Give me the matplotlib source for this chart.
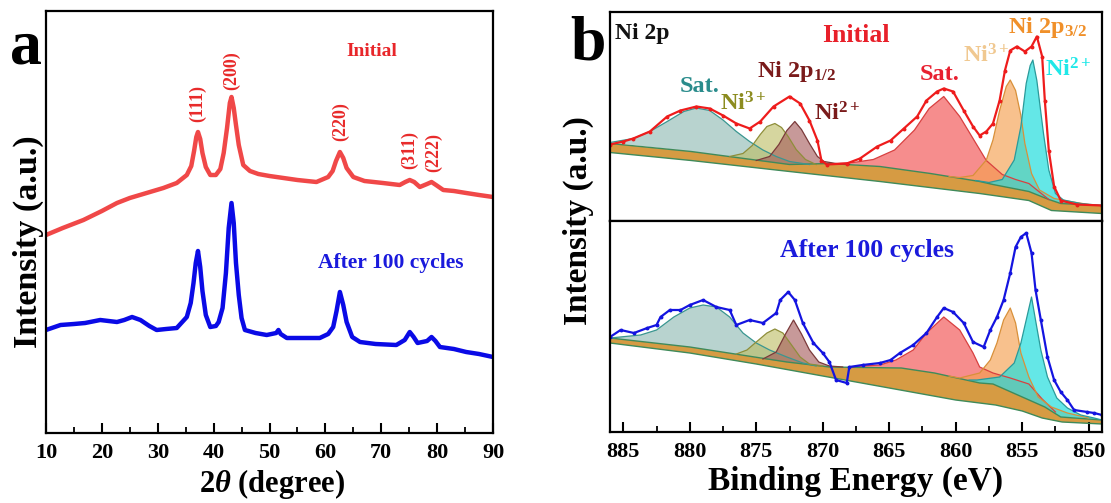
import numpy as np
import matplotlib
matplotlib.use('Agg')
import matplotlib.pyplot as plt
from matplotlib.ticker import MultipleLocator, NullLocator

plt.rcParams['font.family'] = ['Liberation Serif', 'DejaVu Serif']
plt.rcParams['font.weight'] = 'bold'
plt.rcParams['mathtext.fontset'] = 'custom'
plt.rcParams['mathtext.rm'] = 'Liberation Serif:bold'
plt.rcParams['mathtext.bf'] = 'Liberation Serif:bold'
plt.rcParams['mathtext.it'] = 'Liberation Serif:italic'

# ---- a: XRD (2theta, intensity a.u.)
xrd_init_x = [10, 13, 16.7, 20, 22.7, 25, 28.6, 31, 33.4, 35.2, 36.0, 36.5, 36.9, 37.2, 37.6, 38.0,
              38.6, 39.4, 40.4, 41.2, 41.8, 42.4, 42.9, 43.2, 43.6, 44.0, 44.5, 45.3, 46.5, 48, 50,
              52.5, 55, 58.4, 60.5, 61.3, 61.9, 62.6, 63.2, 63.8, 65.0, 67, 70.3, 73.3, 74.3, 75.1,
              75.9, 76.9, 78.2, 79.0, 79.8, 81.1, 83, 85.2, 87.5, 90]
xrd_init_y = [198, 205, 213, 222, 230, 235, 241, 245, 250, 258, 267, 282, 296, 301, 294, 280,
              266, 258, 258, 264, 280, 305, 330, 336, 325, 308, 288, 268, 262, 259, 257,
              255, 253, 251, 256, 262, 272, 281, 275, 265, 256, 252, 250, 248, 251, 253,
              251, 246, 249, 251, 248, 243, 242, 240, 238, 236]
xrd_cyc_x = [10, 12.6, 15, 17, 19.7, 22.7, 24, 25.4, 26.9, 28.5, 29.8, 31.5, 33.4, 35.2, 35.9, 36.4,
             36.8, 37.2, 37.6, 38.0, 38.6, 39.4, 40.4, 40.9, 41.6, 42.2, 42.7, 43.2, 43.6, 44.0, 44.5,
             45.0, 45.6, 47.5, 49.5, 51.2, 51.6, 52.0, 53.1, 56, 59.0, 60.5, 61.4, 62.0, 62.6, 63.2,
             63.8, 64.8, 66.2, 69, 72.7, 74.2, 75.1, 75.8, 76.5, 78.2, 79.0, 79.7, 80.5, 83, 85.2,
             87.5, 90]
xrd_cyc_y = [103, 108, 109, 110, 113, 111, 113, 116, 113, 107, 103, 104, 105, 116, 130, 150,
             170, 182, 166, 142, 118, 106, 107, 111, 125, 160, 205, 230, 210, 170, 138,
             115, 103, 100, 98, 100, 103, 99, 95, 95, 95, 99, 106, 122, 141, 128,
             111, 96, 91, 89, 88, 93, 101, 96, 90, 92, 96, 92, 86, 84, 81,
             79, 76]
hkl_labels = ['(111)', '(200)', '(220)', '(311)', '(222)']
hkl_x = [37.2, 43.3, 62.8, 75.1, 79.4]
hkl_y = [330, 362, 311, 283, 280]

# ---- b: XPS Ni 2p, binding energy (eV) / intensity (a.u.)
init_be = [886, 885, 884.25, 883.0, 881.7, 880.7, 879.5, 878.5, 877.5, 876.5, 875.5, 874.7, 873.7,
           872.5, 871.7, 871.0, 870.4, 870.1, 869.7, 868.2, 867.2, 865.9, 864.9, 863.9, 862.9, 862.2,
           861.4, 860.9, 860.2, 859.4, 858.7, 858.2, 857.7, 857.2, 856.7, 856.3, 855.9, 855.4, 854.8,
           854.3, 853.9, 853.5, 853.3, 853.0, 852.6, 852.1, 850.9, 849]
init_int = [76, 79, 82, 89, 104, 110, 114, 112, 105, 97, 92, 99, 114,
            124, 117, 100, 80, 60, 56, 57, 62, 74, 80, 92, 104, 120,
            129, 132, 129, 110, 94, 85, 89, 97, 120, 150, 170, 174, 169,
            174, 184, 164, 120, 70, 34, 20, 16, 15]
init_bg_be = [886, 879.9, 872.5, 865.7, 858.2, 854.5, 852.8, 849]
init_bg = [68, 60, 49, 39, 27, 20, 10, 7]
init_shirley_be = [886, 879.9, 872.5, 869.5, 865.7, 861.9, 858.2, 857.2, 854.5, 853, 852.1, 849]
init_shirley = [77, 69, 56, 57, 54, 47, 39, 36, 29, 21, 17, 15]
init_peaks = {
    'sat1': ([886, 884.25, 883, 881.7, 880.45, 879.5, 878.5, 877.5, 876.5, 875.5, 874.5, 873.5, 872.5, 871],
             [78, 82, 89, 99, 109, 112.5, 110, 100.5, 89, 79, 70.5, 64, 59, 56]),
    'ni3a': ([877, 876, 875.3, 874.7, 874.2, 873.6, 873.1, 872.6, 872.0, 871.3, 870.5],
             [64, 67, 75, 86, 94, 97, 93, 84, 71, 61, 56]),
    'ni2a': ([875, 874, 873.3, 872.7, 872.1, 871.6, 871.0, 870.4, 869.9, 869, 868],
             [60, 64, 76, 90, 99, 91, 77, 64, 59, 57, 56]),
    'sat2': ([869, 867.7, 866.2, 864.6, 863.1, 862.0, 860.9, 859.7, 858.7, 857.7, 856.5, 855.5, 854.5, 853],
             [57, 58, 61, 70.5, 90.5, 112, 124, 104, 82, 60, 46, 41, 37, 21]),
    'ni3b': ([860.5, 859.7, 858.7, 857.7, 857.2, 856.7, 856.2, 855.9, 855.5, 855.1, 854.8, 854.3, 853.7,
              852.6, 851.4, 850],
             [44, 43, 45, 60.5, 80.5, 110, 134, 140.5, 130, 105, 77, 47, 30.5, 22, 19, 16]),
    'ni2b': ([858.5, 857.5, 856.5, 855.6, 855.1, 854.7, 854.4, 854.2, 853.9, 853.4, 853.0, 852.5, 851.9,
              850.6, 849],
             [40, 38, 41, 60.5, 94, 137, 155, 160.5, 140, 87, 50.5, 27, 20.5, 17, 15]),
}

cyc_be = [886, 885.2, 884.2, 883.2, 882.5, 882.2, 881.5, 880.7, 880.0, 879.0, 878.0, 877.0, 876.5,
          875.5, 874.5, 873.5, 873.2, 872.6, 872.1, 871.5, 870.7, 870.0, 869.5, 869.0, 868.2, 868.0,
          867.0, 865.7, 864.9, 864.2, 863.2, 862.2, 861.4, 860.9, 860.2, 859.4, 858.7, 857.9, 857.4,
          856.9, 856.4, 855.9, 855.5, 855.1, 854.7, 854.3, 854.0, 853.6, 853.1, 852.6, 852.1, 851.6,
          851.1, 850.1, 849.6, 849]
cyc_int = [95, 102, 99, 104, 107, 115, 122, 122, 127, 132, 125, 122, 107,
           112, 109, 119, 132, 140, 132, 109, 89, 79, 70, 52, 49, 65,
           67, 69, 72, 79, 87, 99, 115, 124, 120, 109, 90, 85, 102,
           115, 132, 159, 185, 195, 199, 179, 142, 112, 75, 52, 40, 32,
           22, 20, 19, 17]
cyc_bg_be = [886, 880, 875, 870, 865, 860, 857, 855, 853.5, 852, 849]
cyc_bg = [89, 79, 68, 56, 44, 32, 27, 21, 14, 10, 8]
cyc_shirley_be = [886, 880, 872.7, 869.5, 864.1, 861.6, 858.2, 857.2, 853.3, 852.1, 849]
cyc_shirley = [94, 85, 70, 65, 64, 59, 49, 48, 25, 15, 12]
cyc_peaks = {
    'sat1': ([886, 883.7, 882.5, 881.2, 880, 879, 878, 877, 876, 875, 874, 872.7, 871.5, 870.5],
             [94, 97, 102, 115, 124, 127, 125, 115, 99, 89, 82, 75, 69, 66]),
    'ni3a': ([876.5, 875.7, 875, 874.2, 873.6, 873, 872.4, 871.7, 871, 870],
             [78, 82, 90, 99, 103, 99, 88, 75, 68, 66]),
    'ni2a': ([874.5, 873.5, 872.8, 872.2, 871.6, 871, 870.3, 869.5, 868.5],
             [73, 80, 98, 112, 98, 82, 70, 66, 65]),
    'sat2': ([868, 867, 865.7, 864.5, 863.2, 862.2, 860.9, 859.7, 858.7, 858.2, 857.2, 855.9, 854.5,
              853.5, 852.5],
             [65, 66, 67, 72, 82, 99, 115, 102, 79, 65, 59, 54, 48, 33, 20]),
    'ni3b': ([860.5, 859.7, 858.2, 857.4, 856.9, 856.4, 855.9, 855.5, 855.1, 854.5, 853.8, 852.8, 851.6, 850],
             [56, 54, 59, 72, 89, 112, 124, 109, 79, 55, 35, 25, 19, 14]),
    'ni2b': ([859, 858.4, 856.7, 855.6, 855.1, 854.7, 854.3, 854, 853.6, 853.1, 852.4, 851.6, 850.6,
              849.6, 849],
             [52, 52, 55, 69, 89, 112, 135, 112, 82, 55, 34, 24, 17, 14, 12]),
}

peak_style = {
    'sat1': ('#7fb0a8', '#3a9690', 0.55),
    'ni3a': ('#bcbc60', '#8e8e3a', 0.6),
    'ni2a': ('#a25656', '#7a3a3a', 0.6),
    'sat2': ('#f25050', '#d84040', 0.65),
    'ni3b': ('#f5a050', '#d8903a', 0.65),
    'ni2b': ('#22dede', '#2a9a9a', 0.7),
}

W, H = 1111, 503
fx = lambda px: px / W
fy = lambda py: 1 - py / H

fig = plt.figure(figsize=(11.11, 5.03), dpi=100)


def frame(ax):
    for s in ax.spines.values():
        s.set_linewidth(1.6)
    ax.yaxis.set_major_locator(NullLocator())


# ---------- panel a
ax1 = fig.add_axes([fx(46), fy(433), fx(493) - fx(46), fy(11) - fy(433)])
ax1.plot(xrd_init_x, xrd_init_y, color='#f04848', lw=3.2)
ax1.plot(xrd_cyc_x, xrd_cyc_y, color='#0a0ae6', lw=3.2)
for lab, x, y in zip(hkl_labels, hkl_x, hkl_y):
    ax1.text(x, y, lab, rotation=90, color='#e82a2a', fontsize=13, ha='center', va='center')
ax1.set_xlim(10, 90)
ax1.set_ylim(0, 422)
ax1.xaxis.set_major_locator(MultipleLocator(10))
ax1.xaxis.set_minor_locator(MultipleLocator(5))
ax1.tick_params(axis='x', which='major', direction='in', length=7, width=1.5, labelsize=16, pad=7)
ax1.tick_params(axis='x', which='minor', direction='in', length=4, width=1.3)
frame(ax1)

# ---------- panel b


def poly(comp_be, comp_v, base_be, base_v):
    # close a fitted component down onto the background line
    lo, hi = min(comp_be), max(comp_be)
    xs = list(comp_be)
    ys = list(comp_v)
    inner = [(b, v) for b, v in zip(base_be, base_v) if lo < b < hi]
    for b, v in sorted(inner):
        xs.append(b)
        ys.append(v)
    return xs, ys


def xps(ax, be, inten, color, bg_be, bg_v, sh_be, sh_v, peaks):
    # background band
    bx = list(sh_be) + list(bg_be)[::-1]
    by = list(sh_v) + list(bg_v)[::-1]
    ax.fill(bx, by, color='#cf8a22', alpha=0.85, lw=0)
    ax.plot(bg_be, bg_v, color='#3f8a5a', lw=1.0)
    ax.plot(sh_be, sh_v, color='#3f8a5a', lw=1.0)
    for name, (pb, pv) in peaks.items():
        fc, ec, al = peak_style[name]
        xs, ys = poly(pb, pv, sh_be, sh_v)
        ax.fill(xs, ys, facecolor=fc, alpha=al, lw=0)
        ax.plot(pb, pv, color=ec, lw=0.9)
    ax.plot(be, inten, color=color, lw=1.6, marker='o', ms=1.8)
    ax.set_xlim(886, 849)
    frame(ax)


ax2 = fig.add_axes([fx(610), fy(220.5), fx(1102) - fx(610), fy(12) - fy(220.5)])
xps(ax2, init_be, init_int, '#ee1c1c', init_bg_be, init_bg, init_shirley_be, init_shirley, init_peaks)
ax2.set_ylim(0, 208.5)
ax2.xaxis.set_major_locator(NullLocator())

ax3 = fig.add_axes([fx(610), fy(432), fx(1102) - fx(610), fy(220.5) - fy(432)])
xps(ax3, cyc_be, cyc_int, '#1414e0', cyc_bg_be, cyc_bg, cyc_shirley_be, cyc_shirley, cyc_peaks)
ax3.set_ylim(0, 211.5)
ax3.xaxis.set_major_locator(MultipleLocator(5))
ax3.xaxis.set_minor_locator(MultipleLocator(2.5))
ax3.tick_params(axis='x', which='major', direction='in', length=7, width=1.5, labelsize=16, pad=7)
ax3.tick_params(axis='x', which='minor', direction='in', length=4, width=1.3)

# ---------- texts
t = dict(ha='center', va='center')
fig.text(fx(26), fy(48), 'a', fontsize=46, **t)
fig.text(fx(588), fy(44), 'b', fontsize=46, **t)

fig.text(fx(28), fy(242), 'Intensity (a.u.)', rotation=90, fontsize=24.5, **t)
fig.text(fx(578), fy(221), 'Intensity (a.u.)', rotation=90, fontsize=24, **t)
fig.text(fx(272), fy(484), r'2$\theta$ (degree)', fontsize=22, **t)
fig.text(fx(856), fy(481), 'Binding Energy (eV)', fontsize=24, **t)

fig.text(fx(372), fy(52), 'Initial', color='#e8262a', fontsize=14, **t)
fig.text(fx(391), fy(263), 'After 100 cycles', color='#1a1adc', fontsize=15.5, **t)

fig.text(fx(615), fy(33), 'Ni 2p', color='#111111', fontsize=17, ha='left', va='center')
fig.text(fx(856), fy(35), 'Initial', color='#e8202a', fontsize=18.5, **t)
fig.text(fx(700), fy(86), 'Sat.', color='#2a8c8c', fontsize=17.5, **t)
fig.text(fx(743), fy(104), r'Ni$^{3+}$', color='#8c8c20', fontsize=17.5, **t)
fig.text(fx(757), fy(72), r'Ni 2p$_{1/2}$', color='#7a1a1a', fontsize=17.5, ha='left', va='center')
fig.text(fx(837), fy(114), r'Ni$^{2+}$', color='#7a1a1a', fontsize=17.5, **t)
fig.text(fx(940), fy(74), 'Sat.', color='#e82030', fontsize=17.5, **t)
fig.text(fx(986), fy(56), r'Ni$^{3+}$', color='#f0c890', fontsize=17.5, **t)
fig.text(fx(1048), fy(28), r'Ni 2p$_{3/2}$', color='#f0902a', fontsize=17.5, **t)
fig.text(fx(1068), fy(70), r'Ni$^{2+}$', color='#20e8e8', fontsize=17.5, **t)
fig.text(fx(867), fy(250), 'After 100 cycles', color='#1a1adc', fontsize=18.5, **t)

fig.savefig('out.png', dpi=100)
